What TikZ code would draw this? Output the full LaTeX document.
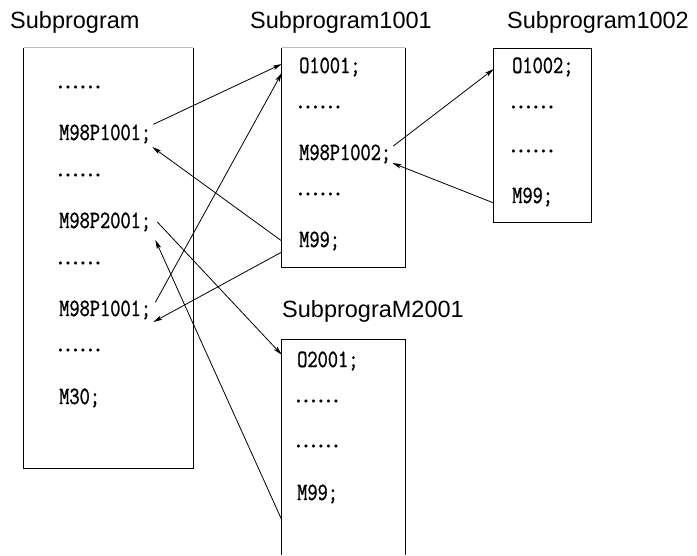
\documentclass[tikz,border=0pt]{standalone}
\usepackage{fontspec}
\setmainfont{Liberation Sans}
\newfontfamily\codefont[FakeStretch=0.8,FakeBold=1.2]{Latin Modern Mono}
\newfontfamily\dotsfont[FakeBold=1]{Liberation Serif}
\usetikzlibrary{arrows.meta,calc}

\begin{document}
\begin{tikzpicture}[x=1pt,y=-1pt,
  title/.style={anchor=base west, inner sep=0pt, font=\fontsize{23.5}{26}\selectfont},
  code/.style={anchor=base west, inner sep=0pt, font=\codefont\fontsize{24.8}{28}\selectfont},
  dots/.style={anchor=base west, inner sep=0pt, font=\dotsfont\fontsize{22.5}{25}\selectfont},
  box/.style={draw=none, inner sep=0pt},
  frame/.style={draw=black, line width=1.3pt},
  faint/.style={draw=black!25, line width=1pt},
  link/.style={draw=black, line width=0.8pt, -{Stealth[length=9pt,width=4.5pt,inset=2pt]}}]

\useasboundingbox (0,0) rectangle (697,555);

% titles
\node[title] (tmain) at (10,28) {Subprogram};
\node[title] (t1001) at (250,28) {Subprogram1001};
\node[title] (t1002) at (507,28) {Subprogram1002};
\node[title] (t2001) at (282,317) {SubprograM2001};

% program frames
\node[box, minimum width=169pt, minimum height=420pt] (main) at (108.5,258) {};
\draw[frame] (main.north west) -- (main.south west) -- (main.south east) -- (main.north east);
\draw[faint] (main.north west) -- (main.north east);

\node[box, minimum width=123pt, minimum height=219pt] (sub1) at (343.5,157.5) {};
\draw[frame] (sub1.north west) -- (sub1.south west) -- (sub1.south east) -- (sub1.north east);
\draw[faint] (sub1.north west) -- (sub1.north east);

\node[box, minimum width=97pt, minimum height=173pt] (sub3) at (542.5,135.5) {};
\draw[frame] (sub3.north west) rectangle (sub3.south east);

\node[box, minimum width=123pt, minimum height=215pt] (sub2) at (343.5,447.5) {};
\draw[frame] (sub2.south west) -- (sub2.north west) -- (sub2.north east) -- (sub2.south east);

% main program lines
\node[dots] (d1) at (56.5,88) {……};
\node[code] (call1) at (59,140) {M98P1001;};
\node[dots] (d2) at (56.5,176) {……};
\node[code] (call2) at (59,228) {M98P2001;};
\node[dots] (d3) at (56.5,264) {……};
\node[code] (call3) at (59,316) {M98P1001;};
\node[dots] (d4) at (56.5,351) {……};
\node[code] (m30) at (59,404) {M30;};

% subprogram 1001
\node[code] (o1001) at (299,73) {O1001;};
\node[dots] (d5) at (296.5,108) {……};
\node[code] (call4) at (299,160) {M98P1002;};
\node[dots] (d6) at (296.5,195) {……};
\node[code] (m99a) at (299,247) {M99;};

% subprogram 1002
\node[code] (o1002) at (512,73) {O1002;};
\node[dots] (d7) at (509.5,108) {……};
\node[dots] (d8) at (509.5,152) {……};
\node[code] (m99b) at (512,203) {M99;};

% subprogram 2001
\node[code] (o2001) at (297,367) {O2001;};
\node[dots] (d9) at (294.5,402) {……};
\node[dots] (d10) at (294.5,447) {……};
\node[code] (m99c) at (297,500) {M99;};

% calls and returns
\draw[link] ($(call1.north east)+(2,0)$) -- ($(sub1.west |- o1001.center)+(0,-3)$);
\draw[link] ($(call3.north east)+(4,2)$) -- (sub1.west |- o1001.base);
\draw[link] (sub1.west |- m99a.center) -- ($(call1.base east)+(1,7)$);
\draw[link] ($(sub1.west |- m99a.base)+(0,5)$) -- ($(call3.base east)+(2,6)$);
\draw[link] ($(call2.base east)+(6,-6)$) -- ($(sub2.north west)+(0,15)$);
\draw[link] ($(sub2.west |- m99c.base)+(0,20)$) -- ($(call2.base east)+(4,12)$);
\draw[link] ($(call4.base east)+(2,-14)$) -- ($(sub3.west |- o1002.center)+(0,2)$);
\draw[link] (sub3.west |- m99b.base) -- ($(call4.base east)+(1,3)$);
\end{tikzpicture}
\end{document}
